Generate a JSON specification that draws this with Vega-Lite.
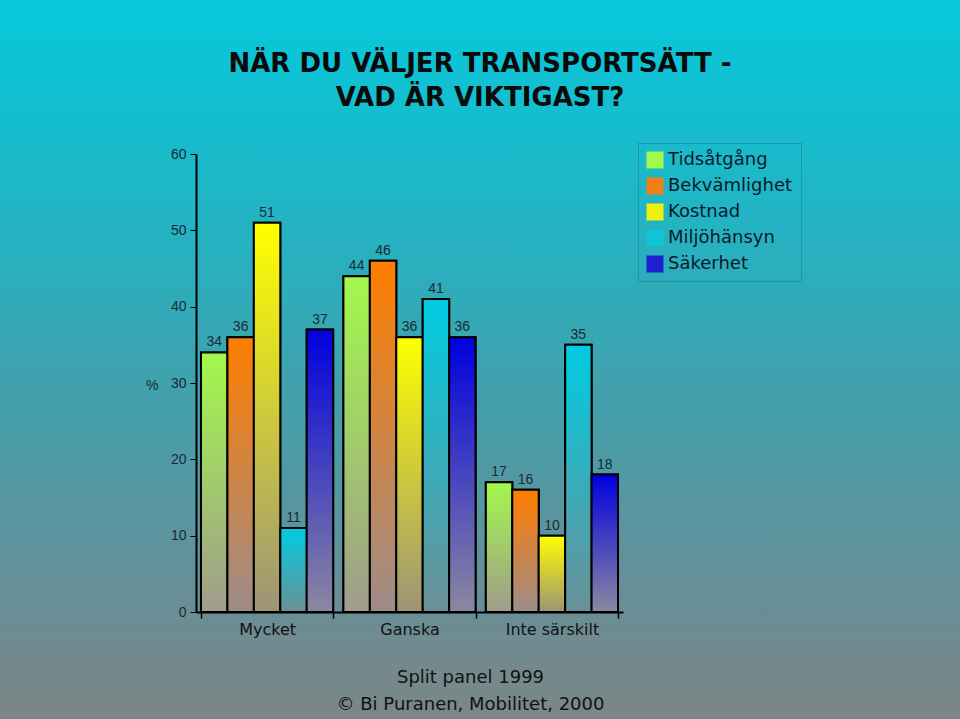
{
  "$schema": "https://vega.github.io/schema/vega-lite/v6.json",
  "width": 960,
  "height": 719,
  "autosize": {"type": "none"},
  "padding": 0,
  "background": "#3AA6B2",
  "config": {"view": {"stroke": null}},
  "title": {
    "text": ["NÄR DU VÄLJER TRANSPORTSÄTT -", "VAD ÄR VIKTIGAST?"],
    "orient": "top",
    "anchor": "middle",
    "offset": -111,
    "font": "DejaVu Sans",
    "fontSize": 26,
    "fontWeight": "bold",
    "color": "#0a0a0a",
    "lineHeight": 34
  },
  "layer": [
    {
      "data": {"values": [{}]},
      "mark": {
        "type": "rect",
        "fill": {
          "gradient": "linear", "x1": 0, "y1": 0, "x2": 0, "y2": 1,
          "stops": [
            {"offset": 0, "color": "#05C9DB"},
            {"offset": 0.3, "color": "#22B4C4"},
            {"offset": 0.55, "color": "#42A0AC"},
            {"offset": 0.8, "color": "#64909A"},
            {"offset": 1, "color": "#7C8686"}
          ]
        }
      },
      "encoding": {}
    },
    {
      "data": {
        "values": [
          {"Grupp": "Mycket", "Faktor": "Tidsåtgång", "Procent": 34},
          {"Grupp": "Mycket", "Faktor": "Bekvämlighet", "Procent": 36},
          {"Grupp": "Mycket", "Faktor": "Kostnad", "Procent": 51},
          {"Grupp": "Mycket", "Faktor": "Miljöhänsyn", "Procent": 11},
          {"Grupp": "Mycket", "Faktor": "Säkerhet", "Procent": 37},
          {"Grupp": "Ganska", "Faktor": "Tidsåtgång", "Procent": 44},
          {"Grupp": "Ganska", "Faktor": "Bekvämlighet", "Procent": 46},
          {"Grupp": "Ganska", "Faktor": "Kostnad", "Procent": 36},
          {"Grupp": "Ganska", "Faktor": "Miljöhänsyn", "Procent": 41},
          {"Grupp": "Ganska", "Faktor": "Säkerhet", "Procent": 36},
          {"Grupp": "Inte särskilt", "Faktor": "Tidsåtgång", "Procent": 17},
          {"Grupp": "Inte särskilt", "Faktor": "Bekvämlighet", "Procent": 16},
          {"Grupp": "Inte särskilt", "Faktor": "Kostnad", "Procent": 10},
          {"Grupp": "Inte särskilt", "Faktor": "Miljöhänsyn", "Procent": 35},
          {"Grupp": "Inte särskilt", "Faktor": "Säkerhet", "Procent": 18}
        ]
      },
      "encoding": {
        "x": {
          "field": "Grupp", "type": "nominal", "sort": null,
          "scale": {"domain": ["Mycket", "Ganska", "Inte särskilt"], "range": [196, 623], "paddingInner": 0.072, "paddingOuter": 0.035},
          "axis": {
            "orient": "bottom",
            "zindex": 2,
            "offset": -107,
            "labelAngle": 0,
            "tickBand": "extent",
            "domainColor": "#000000",
            "domainWidth": 2,
            "tickColor": "#000000",
            "tickWidth": 1.5,
            "tickSize": 6,
            "labelFont": "DejaVu Sans",
            "labelFontSize": 16,
            "labelColor": "#111111",
            "labelPadding": 3,
            "title": ["Split panel 1999", "© Bi Puranen, Mobilitet, 2000"],
            "titleFont": "DejaVu Sans",
            "titleFontSize": 18,
            "titleFontWeight": "normal",
            "titleColor": "#111111",
            "titleX": 470,
            "titleY": 56,
            "titleBaseline": "top",
            "titleAlign": "center",
            "titleLineHeight": 27
          }
        },
        "xOffset": {
          "field": "Faktor", "type": "nominal",
          "scale": {"domain": ["Tidsåtgång", "Bekvämlighet", "Kostnad", "Miljöhänsyn", "Säkerhet"], "paddingInner": 0, "paddingOuter": 0}
        },
        "y": {
          "field": "Procent", "type": "quantitative",
          "scale": {"domain": [0, 60], "range": [612, 154], "nice": false},
          "axis": {
            "zindex": 2,
            "offset": -196,
            "values": [0, 10, 20, 30, 40, 50, 60],
            "grid": false,
            "domainColor": "#000000",
            "domainWidth": 2,
            "tickColor": "#000000",
            "tickWidth": 1,
            "tickSize": 6,
            "labelFont": "Liberation Sans",
            "labelFontSize": 14,
            "labelColor": "#1a2a33",
            "labelPadding": 4,
            "title": "%",
            "titleAngle": 0,
            "titleFont": "Liberation Sans",
            "titleFontSize": 14,
            "titleFontWeight": "normal",
            "titleColor": "#1a2a33",
            "titleAlign": "right",
            "titleBaseline": "middle",
            "titleX": -38,
            "titleY": 385
          }
        }
      },
      "layer": [
        {
          "mark": {"type": "bar", "stroke": "#000000", "strokeWidth": 2},
          "encoding": {
            "fill": {
              "field": "Faktor", "type": "nominal",
              "scale": {
                "domain": ["Tidsåtgång", "Bekvämlighet", "Kostnad", "Miljöhänsyn", "Säkerhet"],
                "range": ["#A2F84C", "#F28018", "#F0F010", "#10C4D8", "#2020D0"]
              },
              "legend": {
                "orient": "none",
                "legendX": 638,
                "legendY": 143,
                "title": null,
                "padding": 8,
                "strokeColor": "#1A98A8",
                "symbolType": "square",
                "symbolSize": 289,
                "symbolStrokeWidth": 0,
                "labelFont": "DejaVu Sans",
                "labelFontSize": 18,
                "labelColor": "#0a1a2a",
                "labelOffset": 4,
                "rowPadding": 8,
                "labelLimit": 200
              }
            }
          }
        },
        {
          "transform": [{"filter": {"field": "Faktor", "equal": "Tidsåtgång"}}],
          "mark": {"type": "bar", "stroke": "#000000", "strokeWidth": 2, "fill": {"gradient": "linear", "x1": 0, "y1": 0, "x2": 0, "y2": 1, "stops": [{"offset": 0, "color": "#A2F84C"}, {"offset": 1, "color": "#A09C8C"}]}}
        },
        {
          "transform": [{"filter": {"field": "Faktor", "equal": "Bekvämlighet"}}],
          "mark": {"type": "bar", "stroke": "#000000", "strokeWidth": 2, "fill": {"gradient": "linear", "x1": 0, "y1": 0, "x2": 0, "y2": 1, "stops": [{"offset": 0, "color": "#FF7E00"}, {"offset": 1, "color": "#9E8C8A"}]}}
        },
        {
          "transform": [{"filter": {"field": "Faktor", "equal": "Kostnad"}}],
          "mark": {"type": "bar", "stroke": "#000000", "strokeWidth": 2, "fill": {"gradient": "linear", "x1": 0, "y1": 0, "x2": 0, "y2": 1, "stops": [{"offset": 0, "color": "#FFFF00"}, {"offset": 1, "color": "#9C9478"}]}}
        },
        {
          "transform": [{"filter": {"field": "Faktor", "equal": "Miljöhänsyn"}}],
          "mark": {"type": "bar", "stroke": "#000000", "strokeWidth": 2, "fill": {"gradient": "linear", "x1": 0, "y1": 0, "x2": 0, "y2": 1, "stops": [{"offset": 0, "color": "#00CCE2"}, {"offset": 1, "color": "#6B9096"}]}}
        },
        {
          "transform": [{"filter": {"field": "Faktor", "equal": "Säkerhet"}}],
          "mark": {"type": "bar", "stroke": "#000000", "strokeWidth": 2, "fill": {"gradient": "linear", "x1": 0, "y1": 0, "x2": 0, "y2": 1, "stops": [{"offset": 0, "color": "#0000DE"}, {"offset": 1, "color": "#8C88A0"}]}}
        },
        {
          "mark": {"type": "text", "baseline": "bottom", "dy": -3, "font": "Liberation Sans", "fontSize": 14, "color": "#1a2a33"},
          "encoding": {"text": {"field": "Procent", "type": "quantitative"}}
        }
      ]
    }
  ]
}
